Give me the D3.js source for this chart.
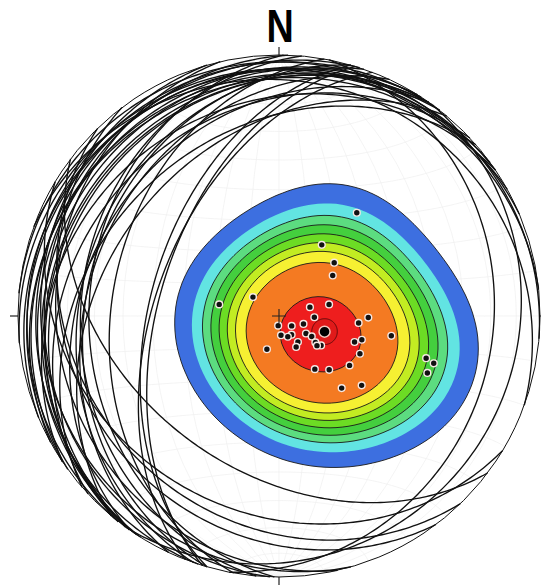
<!DOCTYPE html>
<html>
<head>
<meta charset="utf-8">
<script src="https://cdn.jsdelivr.net/npm/d3@7"></script>
<style>
  html, body { margin: 0; padding: 0; background: #fff; }
  svg { display: block; }
</style>
</head>
<body>
<svg id="net" width="541" height="586"></svg>
<script>
// Poles to bedding planes: trend / plunge in degrees (lower hemisphere)
const poleTrend = [37, 31, 46, 53, 281, 306, 74, 77, 92, 91, 95, 185, 128, 108, 174, 146, 157,
                   123, 122, 144, 151, 126, 125, 128, 109, 106, 100, 200, 115, 125, 146, 137,
                   139, 130, 106, 107, 111];
const polePlunge = [49, 64, 66, 69, 71, 80, 80, 74, 79, 62, 65, 87, 85, 82, 84, 83, 83,
                    80, 78, 80, 79, 76, 74, 75, 65, 63, 54, 79, 62, 63, 70, 67,
                    60, 56, 41, 38, 39];

// Mean pole and its cone of confidence
const meanTrend = 109;
const meanPlunge = 75;
const coneAngle = 4;

// Exponential Kamb density contours (sigma units) and their fills
const contourLevels = [2.1, 3.6, 4.8, 5.9, 7.1, 8.4, 9.8, 11.7, 17.5];
const contourColors = ["#3d6fe0", "#62e4e2", "#5cdc80", "#44cf3e", "#6cdc24",
                       "#c2ec22", "#f6f032", "#f47a22", "#ee1e1e"];

const cx = 279, cy = 316, R = 261;
const rad = Math.PI / 180;

// Lower-hemisphere equal-area (Schmidt) net: the "down" axis is the
// projection centre, east is to the right and north is up.
const proj = d3.geoAzimuthalEqualArea()
  .scale(R / Math.SQRT2)
  .translate([cx, cy])
  .clipAngle(90)
  .precision(0.2);
const path = d3.geoPath(proj);

function toVec(t, p) {
  return [Math.cos(p * rad) * Math.sin(t * rad),   // east
          Math.cos(p * rad) * Math.cos(t * rad),   // north
          Math.sin(p * rad)];                      // down
}
function toLonLat(t, p) {
  const [e, n, d] = toVec(t, p);
  return [Math.atan2(e, d) / rad, Math.asin(Math.max(-1, Math.min(1, n))) / rad];
}
function lonLatToVec([lon, lat]) {
  return [Math.cos(lat * rad) * Math.sin(lon * rad),
          Math.sin(lat * rad),
          Math.cos(lat * rad) * Math.cos(lon * rad)];
}

const svg = d3.select("#net");
const poles = poleTrend.map((t, i) => ({ t, p: polePlunge[i], ll: toLonLat(t, polePlunge[i]) }));

// faint net grid
svg.append("path")
  .datum(d3.geoGraticule().step([10, 10]).extent([[-180, -90], [180, 90]])())
  .attr("d", path)
  .attr("fill", "none")
  .attr("stroke", "#efefef")
  .attr("stroke-width", 0.7);

// great circles of the planes (90 deg from each pole)
const gcLayer = svg.append("g");
poles.forEach(d => {
  const ring = d3.geoCircle().center(d.ll).radius(90).precision(1)().coordinates[0];
  gcLayer.append("path")
    .datum({ type: "LineString", coordinates: ring })
    .attr("d", path)
    .attr("fill", "none")
    .attr("stroke", "#111")
    .attr("stroke-width", 1.35);
});

// density grid sampled in screen space
const step = 6;
const x0 = cx - R, y0 = cy - R;
const nx = Math.ceil(2 * R / step) + 1, ny = nx;
const vecs = poles.map(d => toVec(d.t, d.p));
const n = vecs.length, sigma = 3;
const f = 2 * (1 + n / (sigma * sigma));
const units = Math.sqrt(n * (f / 2 - 1) / (f * f));
const values = new Array(nx * ny);
for (let j = 0; j < ny; j++) {
  for (let i = 0; i < nx; i++) {
    const px = x0 + i * step, py = y0 + j * step;
    if (Math.hypot(px - cx, py - cy) > R - 0.5) { values[j * nx + i] = -1; continue; }
    const v = lonLatToVec(proj.invert([px, py]));
    let s = 0;
    for (const q of vecs) {
      s += Math.exp(f * (Math.abs(v[0] * q[0] + v[1] * q[1] + v[2] * q[2]) - 1));
    }
    values[j * nx + i] = Math.max(0, (s - 0.5) / units);
  }
}

const contours = d3.contours().size([nx, ny]).thresholds(contourLevels)(values);
const gridPath = d3.geoPath(d3.geoIdentity().scale(step).translate([x0 - 0.5 * step, y0 - 0.5 * step]));
const cLayer = svg.append("g");
contours.forEach((c, k) => {
  cLayer.append("path")
    .attr("d", gridPath(c))
    .attr("fill", contourColors[k])
    .attr("stroke", k === 1 ? "none" : "#1a1a1a")
    .attr("stroke-width", 0.9)
    .attr("stroke-linejoin", "round");
});

// cone of confidence around the mean pole
svg.append("path")
  .datum(d3.geoCircle().center(toLonLat(meanTrend, meanPlunge)).radius(coneAngle)())
  .attr("d", path)
  .attr("fill", "rgba(120,0,0,0.12)")
  .attr("stroke", "#5a0a0a")
  .attr("stroke-width", 1);

// poles
svg.append("g").selectAll("circle").data(poles).join("circle")
  .attr("cx", d => proj(d.ll)[0])
  .attr("cy", d => proj(d.ll)[1])
  .attr("r", 3.4)
  .attr("fill", "#111")
  .attr("stroke", "#f6e8e4")
  .attr("stroke-width", 1.4);

// mean pole
const mp = proj(toLonLat(meanTrend, meanPlunge));
svg.append("circle")
  .attr("cx", mp[0]).attr("cy", mp[1]).attr("r", 5.5)
  .attr("fill", "#000").attr("stroke", "#f3c9c0").attr("stroke-width", 1.5);

// centre cross
const c0 = proj([0, 0]);
svg.append("path")
  .attr("d", `M${c0[0] - 7},${c0[1]}H${c0[0] + 7}M${c0[0]},${c0[1] - 7}V${c0[1] + 7}`)
  .attr("stroke", "#222").attr("stroke-width", 1.1);

// primitive and cardinal ticks
svg.append("circle").attr("cx", cx).attr("cy", cy).attr("r", R)
  .attr("fill", "none").attr("stroke", "#111").attr("stroke-width", 1);
const tickLen = 8;
[[0, -1], [0, 1], [-1, 0], [1, 0]].forEach(([dx, dy]) => {
  svg.append("line")
    .attr("x1", cx + dx * R).attr("y1", cy + dy * R)
    .attr("x2", cx + dx * (R + tickLen)).attr("y2", cy + dy * (R + tickLen))
    .attr("stroke", "#222").attr("stroke-width", 1.2);
});

svg.append("text")
  .attr("transform", `translate(${cx + 1},42) scale(0.82,1)`)
  .attr("text-anchor", "middle")
  .attr("font-family", "Liberation Sans, Arial, sans-serif")
  .attr("font-weight", "bold")
  .attr("font-size", 46)
  .attr("fill", "#000")
  .text("N");
</script>
</body>
</html>
